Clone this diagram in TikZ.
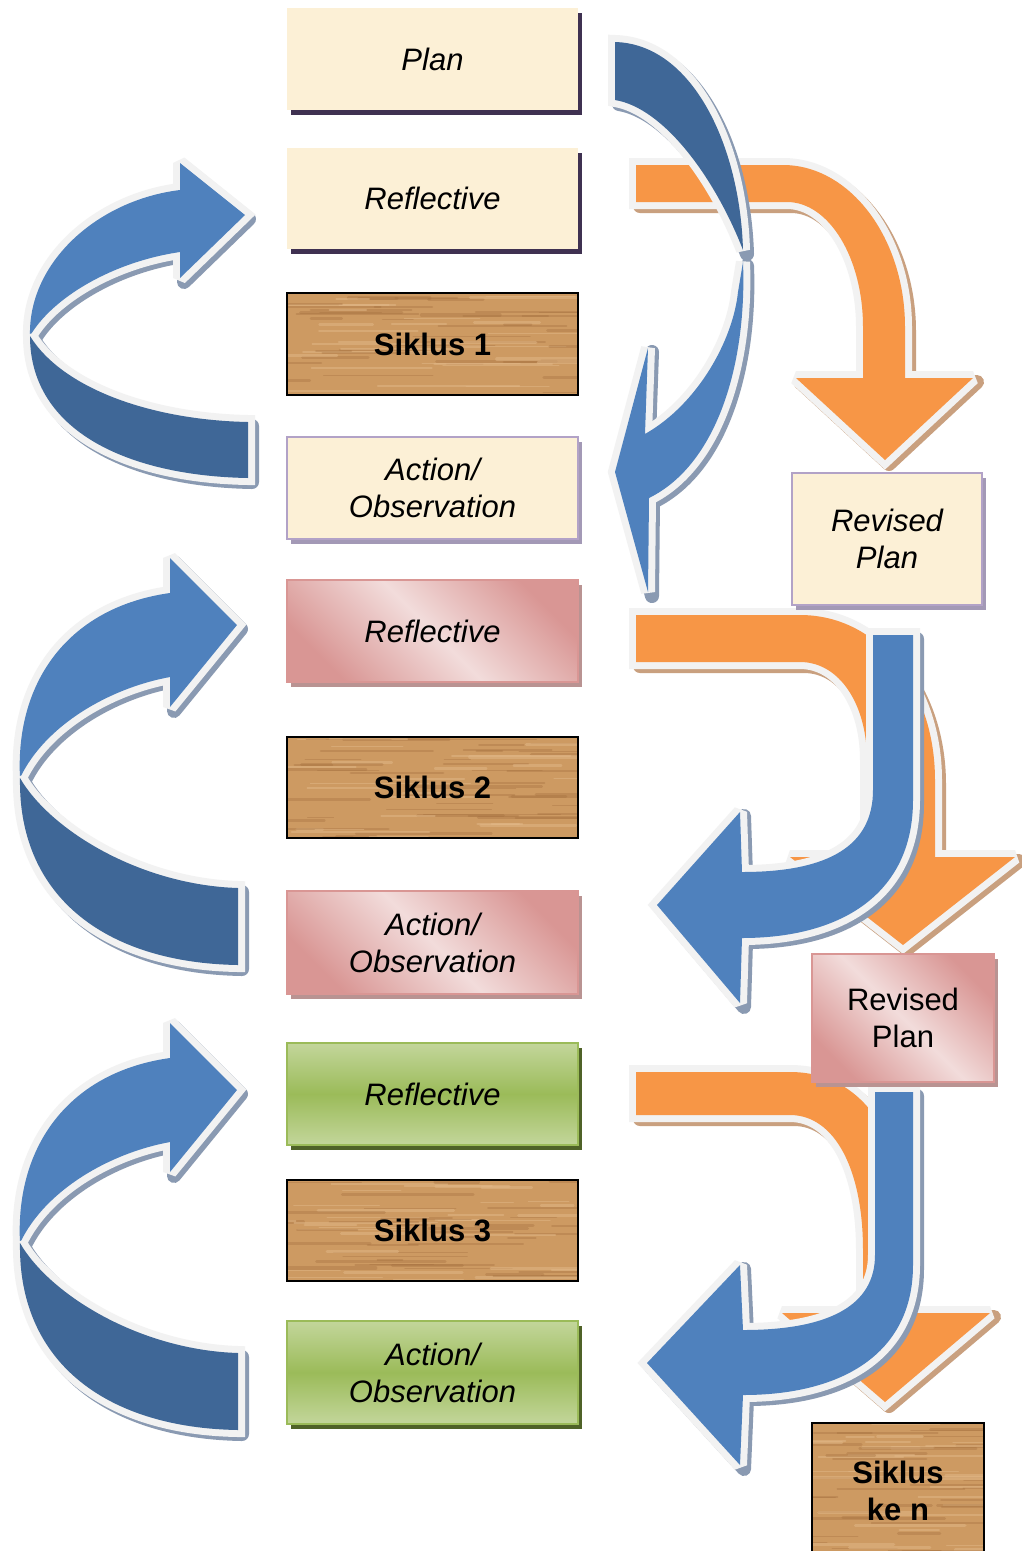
\documentclass[tikz,border=0pt]{standalone}
\usepackage{fontspec}
\setmainfont{Liberation Sans}
\usetikzlibrary{shadows}
\definecolor{bluel}{HTML}{4F81BD}
\definecolor{blued}{HTML}{3F6797}
\definecolor{bluesh}{HTML}{8A9AB2}
\definecolor{outl}{HTML}{F2F2F2}
\definecolor{orng}{HTML}{F79646}
\definecolor{orsh}{HTML}{C9A07F}
\definecolor{cream}{HTML}{FCF0D6}
\definecolor{plansh}{HTML}{3F3151}
\definecolor{lav}{HTML}{B2A2C7}
\definecolor{lavsh}{HTML}{A399B6}
\definecolor{pinkd}{HTML}{D99694}
\definecolor{pinkl}{HTML}{F2DCDB}
\definecolor{pinksh}{HTML}{B99392}
\definecolor{greenl}{HTML}{C3D69B}
\definecolor{greend}{HTML}{9BBB59}
\definecolor{greensh}{HTML}{4F6228}
\definecolor{wood}{HTML}{CD9A62}
\definecolor{woodd}{HTML}{A36E3E}
\definecolor{woodl}{HTML}{E2B888}

% wood texture: x y w h
\newcommand\woodfill[4]{%
 \begin{scope}
  \clip (#1,#2) rectangle ++(#3,#4);
  \fill[wood] (#1,#2) rectangle ++(#3,#4);
  \foreach \k in {1,...,70}{%
   \pgfmathsetmacro\gy{#2+#4*rnd}%
   \pgfmathsetmacro\gx{#1-40+(#3+20)*rnd}%
   \pgfmathsetmacro\gl{25+120*rnd}%
   \pgfmathsetmacro\gw{0.8+2.6*rnd}%
   \pgfmathsetmacro\gc{rnd}%
   \ifdim\gc pt<0.55pt
     \draw[woodd, opacity=0.35, line width=\gw pt, line cap=round] (\gx,\gy) -- ++(\gl,0);
   \else
     \draw[woodl, opacity=0.5, line width=\gw pt, line cap=round] (\gx,\gy) -- ++(\gl,0);
   \fi
  }
 \end{scope}}

\newcommand\arrshadow[2]{\path[fill=#2,draw=#2,line width=14pt,line join=round,shift={(4pt,-4pt)}] #1;}
\newcommand\arrpiece[2]{\path[draw=outl,line width=14pt,line join=miter,miter limit=2] #1;\path[fill=#2] #1;}

% left arrows
\def\shpLoneU{(30,336) .. controls (28,262) and (98,200) .. (180,190) -- (180,163) -- (245,215) -- (180,278) -- (180,252) .. controls (112,262) and (52,298) .. (30,336) -- cycle}
\def\shpLoneD{(30,336) .. controls (62,388) and (150,420) .. (248,422) -- (248,478) .. controls (130,476) and (30,432) .. (30,336) -- cycle}
\def\shpLtwoU{(20,778) .. controls (15,680) and (70,607) .. (170,593) -- (170,558) -- (237,625) -- (170,707) -- (170,677) .. controls (110,688) and (45,725) .. (20,778) -- cycle}
\def\shpLtwoD{(20,778) .. controls (50,830) and (140,885) .. (238,888) -- (238,965) .. controls (110,963) and (18,900) .. (20,778) -- cycle}
% top right blue
\def\shpTRd{(615,42) .. controls (692,44) and (740,145) .. (743,250) .. controls (715,178) and (664,108) .. (615,100) -- cycle}
\def\shpTRl{(743,262) .. controls (747,362) and (718,464) .. (649,498) -- (648,592) -- (615,472) -- (648,348) -- (645,434) .. controls (698,404) and (733,340) .. (738,292) -- cycle}
% orange
\def\shpOone{(636,165) -- (783,165) .. controls (850,165) and (905,238) .. (905,327) -- (905,378) -- (973,378) -- (885,460) -- (796,378) -- (863,378) -- (863,327) .. controls (863,258) and (829,202) .. (787,202) -- (636,202) -- cycle}
\def\shpOtwo{(636,615) -- (800,615) .. controls (880,615) and (935,690) .. (935,780) -- (935,857) -- (1015,857) -- (903,945) -- (790,857) -- (867,857) -- (867,760) .. controls (867,705) and (840,662) .. (800,662) -- (636,662) -- cycle}
\def\shpOthree{(636,1072) -- (790,1072) .. controls (870,1072) and (908,1150) .. (908,1240) -- (908,1313) -- (990,1313) -- (885,1402) -- (782,1313) -- (863,1313) -- (863,1250) .. controls (863,1170) and (835,1115) .. (790,1115) -- (636,1115) -- cycle}
% right blue U arrows
\def\shpBtwo{(873,635) -- (913,635) -- (913,800) .. controls (913,895) and (840,938) .. (742,938) -- (740,1003) -- (657,905) -- (740,812) -- (742,872) .. controls (830,872) and (873,845) .. (873,790) -- cycle}
\def\shpBthree{(875,1092) -- (913,1092) -- (913,1265) .. controls (913,1355) and (840,1395) .. (743,1395) -- (740,1465) -- (647,1363) -- (740,1265) -- (743,1330) .. controls (830,1330) and (875,1305) .. (875,1255) -- cycle}

\tikzset{
 box/.style={anchor=north west, inner sep=0pt, outer sep=0pt, align=center, font=\fontsize{31}{37}\selectfont},
 itx/.style={font=\itshape\fontsize{31}{37}\selectfont},
 sh/.style={drop shadow={shadow xshift=4pt, shadow yshift=-5pt, fill=#1, opacity=1}},
 creamA/.style={box, itx, fill=cream, sh=plansh},
 creamB/.style={box, itx, fill=cream, draw=lav, line width=2pt, sh=lavsh},
 pinkbox/.style={box, top color=pinkd, bottom color=pinkd, middle color=pinkl, shading angle=-45, draw=pinkd, line width=2pt, sh=pinksh},
 greenbox/.style={box, itx, top color=greenl, bottom color=greenl, middle color=greend, draw=greend, line width=2pt, sh=greensh},
 woodbox/.style={box, draw=black, line width=1.6pt, font=\bfseries\fontsize{31}{37}\selectfont},
}

\begin{document}
\begin{tikzpicture}[x=1pt,y=-1pt]
\pgfmathsetseed{11}
\useasboundingbox[fill=white] (0,0) rectangle (1021,1551);

% orange 1 and top-right blue arrow
\arrshadow{\shpOone}{orsh}
\arrpiece{\shpOone}{orng}
\arrshadow{\shpTRd}{bluesh}
\arrshadow{\shpTRl}{bluesh}
\arrpiece{\shpTRd}{blued}
\arrpiece{\shpTRl}{bluel}

% left arrows
\arrshadow{\shpLoneU}{bluesh}
\arrshadow{\shpLoneD}{bluesh}
\arrpiece{\shpLoneU}{bluel}
\arrpiece{\shpLoneD}{blued}

\arrshadow{\shpLtwoU}{bluesh}
\arrshadow{\shpLtwoD}{bluesh}
\arrpiece{\shpLtwoU}{bluel}
\arrpiece{\shpLtwoD}{blued}

\begin{scope}[shift={(0,465)}]
\arrshadow{\shpLtwoU}{bluesh}
\arrshadow{\shpLtwoD}{bluesh}
\arrpiece{\shpLtwoU}{bluel}
\arrpiece{\shpLtwoD}{blued}
\end{scope}

% middle right
\arrshadow{\shpOtwo}{orsh}
\arrpiece{\shpOtwo}{orng}
\arrshadow{\shpBtwo}{bluesh}
\arrpiece{\shpBtwo}{bluel}

% bottom right
\arrshadow{\shpOthree}{orsh}
\arrpiece{\shpOthree}{orng}
\arrshadow{\shpBthree}{bluesh}
\arrpiece{\shpBthree}{bluel}

% wood textures
\woodfill{287}{293}{291}{102}
\woodfill{287}{737}{291}{101}
\woodfill{287}{1180}{291}{101}
\woodfill{812}{1423}{172}{136}

% boxes
\node[creamA, minimum width=291pt, minimum height=102pt] (plan) at (287,8) {Plan};
\node[creamA, minimum width=291pt, minimum height=101pt] (refl1) at (287,148) {Reflective};
\node[woodbox, minimum width=291pt, minimum height=102pt] (sik1) at (287,293) {Siklus 1};
\node[creamB, minimum width=291pt, minimum height=102pt] (act1) at (287,437) {Action/\\Observation};
\node[pinkbox, itx, minimum width=291pt, minimum height=102pt] (refl2) at (287,580) {Reflective};
\node[woodbox, minimum width=291pt, minimum height=101pt] (sik2) at (287,737) {Siklus 2};
\node[pinkbox, itx, minimum width=291pt, minimum height=103pt] (act2) at (287,891) {Action/\\Observation};
\node[greenbox, minimum width=291pt, minimum height=102pt] (refl3) at (287,1043) {Reflective};
\node[woodbox, minimum width=291pt, minimum height=101pt] (sik3) at (287,1180) {Siklus 3};
\node[greenbox, minimum width=291pt, minimum height=103pt] (act3) at (287,1321) {Action/\\Observation};

\node[creamB, minimum width=190pt, minimum height=132pt] (rp1) at (792,473) {Revised\\Plan};
\node[pinkbox, minimum width=182pt, minimum height=128pt] (rp2) at (812,954) {Revised\\Plan};
\node[woodbox, minimum width=172pt, minimum height=136pt] (sikn) at (812,1423) {Siklus\\ke n};
\end{tikzpicture}
\end{document}
